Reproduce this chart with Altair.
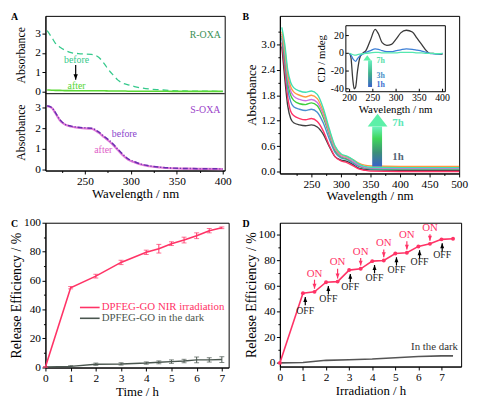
import altair as alt
import pandas as pd

SERIF = "Liberation Serif"

# ---------------- Panel A : UV-vis of R-OXA / S-OXA ----------------
A_WL = [209, 214, 218, 223, 228, 235, 245, 257, 265, 271, 276, 281, 286, 291, 297, 304, 311, 320, 332, 345, 360, 380, 400]
A_R_BEFORE = [3.15, 2.80, 2.50, 2.30, 2.15, 2.02, 1.96, 1.93, 1.78, 1.45, 1.12, 0.85, 0.60, 0.45, 0.36, 0.27, 0.20, 0.14, 0.10, 0.06, 0.04, 0.03, 0.02]
A_R_AFTER = [0.09, 0.08, 0.07, 0.07, 0.06, 0.06, 0.05, 0.05, 0.05, 0.05, 0.04, 0.04, 0.04, 0.04, 0.03, 0.03, 0.03, 0.03, 0.03, 0.02, 0.02, 0.02, 0.02]
A_S_BEFORE = [3.08, 3.00, 2.75, 2.40, 2.20, 2.10, 2.03, 2.00, 1.82, 1.60, 1.43, 1.22, 0.98, 0.75, 0.52, 0.38, 0.26, 0.18, 0.11, 0.07, 0.05, 0.04, 0.03]
A_S_AFTER = [3.06, 2.98, 2.72, 2.37, 2.18, 2.08, 2.01, 1.97, 1.78, 1.56, 1.38, 1.18, 0.94, 0.70, 0.48, 0.35, 0.24, 0.16, 0.10, 0.06, 0.04, 0.03, 0.02]
A_TOP_TEXT = ["R-OXA", "before", "after"]
A_TOP_TX = [381, 241, 241]
A_TOP_TY = [2.95, 1.62, 0.30]
A_TOP_TC = ["#3a8f55", "#33c98a", "#55d633"]
A_BOT_TEXT = ["S-OXA", "before", "after"]
A_BOT_TX = [381, 293, 270]
A_BOT_TY = [2.90, 1.72, 0.95]
A_BOT_TC = ["#9b3fc9", "#8a45cc", "#e05cc8"]
A_ARROW_X = [240]
A_ARROW_Y1 = [1.38]
A_ARROW_Y2 = [0.62]
A_XTICKS = [225, 250, 275, 300, 325, 350, 375, 400]
A_YTICKS = [0, 1, 2, 3]

# ---------------- Panel B : UV-vis over time + CD inset ----------------
B_WL = [200, 205, 210, 215, 220, 230, 240, 250, 260, 270, 280, 290, 300, 310, 320, 330, 340, 350, 400, 450, 500]
B_SERIES = {
    "1h": [2.95, 2.20, 1.55, 1.25, 1.15, 1.10, 1.08, 1.10, 1.05, 0.88, 0.60, 0.35, 0.27, 0.24, 0.17, 0.08, 0.05, 0.04, 0.03, 0.03, 0.03],
    "2h": [3.05, 2.40, 1.75, 1.42, 1.32, 1.25, 1.22, 1.25, 1.18, 0.96, 0.62, 0.35, 0.25, 0.21, 0.14, 0.06, 0.03, 0.01, 0.00, 0.00, 0.00],
    "3h": [3.15, 2.60, 1.95, 1.65, 1.53, 1.47, 1.44, 1.47, 1.40, 1.15, 0.78, 0.45, 0.32, 0.28, 0.20, 0.12, 0.08, 0.06, 0.05, 0.05, 0.05],
    "4h": [3.20, 2.70, 2.10, 1.80, 1.68, 1.60, 1.58, 1.62, 1.55, 1.28, 0.88, 0.50, 0.35, 0.30, 0.23, 0.14, 0.09, 0.07, 0.06, 0.06, 0.06],
    "5h": [3.25, 2.80, 2.20, 1.90, 1.78, 1.70, 1.67, 1.70, 1.63, 1.35, 0.92, 0.53, 0.37, 0.32, 0.24, 0.15, 0.10, 0.08, 0.07, 0.07, 0.07],
    "6h": [3.30, 2.90, 2.30, 2.00, 1.88, 1.80, 1.76, 1.80, 1.72, 1.42, 0.98, 0.58, 0.40, 0.35, 0.28, 0.20, 0.15, 0.13, 0.12, 0.12, 0.12],
    "7h": [3.40, 3.00, 2.40, 2.10, 1.98, 1.90, 1.87, 1.90, 1.82, 1.50, 1.02, 0.60, 0.42, 0.36, 0.28, 0.18, 0.12, 0.10, 0.09, 0.09, 0.09],
}
B_COLORS = ["#404040", "#ff3366", "#4a8fd0", "#3ecf3e", "#d070e0", "#ff9a40", "#3fe0b0"]
B_XTICKS = [225, 250, 275, 300, 325, 350, 375, 400, 425, 450, 475, 500]
B_YTICKS = [0, 0.3, 0.6, 0.9, 1.2, 1.5, 1.8, 2.1, 2.4, 2.7, 3.0, 3.3]
B_ARROW_X = [362]
B_ARROW_Y1 = [0.12]
B_ARROW_Y2 = [1.06]
B_TEXT = ["7h", "1h"]
B_TX = [387, 387]
B_TY = [1.15, 0.35]
B_TC = ["#5ee8b8", "#556677"]

CD_WL = [200, 203, 207, 210, 213, 217, 222, 228, 235, 245, 255, 262, 270, 280, 290, 300, 310, 322, 335, 345, 355, 365, 372, 380, 390, 400]
CD_SERIES = {
    "0h": [0, -5, -30, -40, -38, -20, -5, 0, 3, 15, 27, 22, 12, 9, 10, 16, 23, 26, 24, 17, 10, 3, 0, 0, -1, -1],
    "1h": [0, -2, -6, -8, -9, -6, -3, -1, 1, 3, 5, 4.5, 3, 2, 2, 3, 4, 5, 4.5, 3.5, 2.5, 1, 0, -0.5, -1, 0],
    "7h": [0, -0.5, -1.5, -2, -2, -1.5, -1, -0.5, 0, 0.5, 1, 1, 0.5, 0.5, 0.5, 0.5, 1, 1, 1, 0.5, 0.5, 0, 0, 0, -0.5, 0],
}
CD_COLORS = ["#3a3a3a", "#3d7fd6", "#55e8b0"]
CD_XTICKS = [200, 250, 300, 350, 400]
CD_YTICKS = [-40, -20, 0, 20]
CD_ARROW_X = [238]
CD_ARROW_Y1 = [-38]
CD_ARROW_Y2 = [-8]
CD_TEXT = ["7h", "3h", "1h"]
CD_TX = [258, 258, 258]
CD_TY = [-9, -25.5, -35.5]
CD_TC = ["#55e0a8", "#4a90c8", "#3d6fd0"]

# ---------------- Panel C : release efficiency ----------------
C_T = [0, 1, 2, 3, 4, 4.5, 5, 5.5, 6, 6.5, 7]
C_NIR = [0, 55, 63, 72.5, 79.5, 82, 85.5, 88, 91, 94.5, 96.5]
C_NIR_ERR = [0, 0.8, 1.3, 1.5, 1.5, 3, 1.3, 2, 2, 1.5, 0.6]
C_DARK = [0, 0.5, 2, 2.2, 2.8, 3.3, 3.8, 4.2, 5, 5, 5.2]
C_DARK_ERR = [0, 0.5, 0.8, 0.8, 0.8, 1, 1.2, 1.2, 2, 1.5, 2]
C_LEG_TEXT = ["DPFEG-GO NIR irradiation", "DPFEG-GO in the dark"]
C_LEG_Y = [41.3, 33.8]
C_LEG_X1 = [1.37, 1.37]
C_LEG_X2 = [2.15, 2.15]
C_LEG_TX = [2.23, 2.23]
C_COLORS = ["#ff3366", "#4a564f"]
C_XTICKS = [0, 0.5, 1, 1.5, 2, 2.5, 3, 3.5, 4, 4.5, 5, 5.5, 6, 6.5, 7]
C_YTICKS = [0, 10, 20, 30, 40, 50, 60, 70, 80, 90, 100]

# ---------------- Panel D : on/off irradiation ----------------
D_T = [0, 1, 1.5, 2, 2.5, 3, 3.5, 4, 4.5, 5, 5.5, 6, 6.5, 7, 7.5]
D_NIR = [0, 54.5, 55.5, 63, 63.5, 72.5, 73.5, 79.5, 80, 85.5, 86, 91, 93, 96.5, 97]
D_DARK_T = [0, 1, 2, 3, 4, 5, 6, 7, 7.5]
D_DARK = [0, 0.3, 2, 2.5, 3, 4, 5, 5.5, 5.5]
ON_X = [1.5, 2.5, 3.5, 4.5, 5.5, 6.5]
ON_TEXT_Y = [69.5, 78.5, 86.5, 93.5, 100, 105.5]
ON_TAIL = [65, 73.5, 82, 88.5, 95, 100.5]
ON_TIP = [58, 66, 76, 82.5, 88.5, 95.5]
OFF_X = [1.1, 2.1, 3.05, 4.1, 5.05, 6.05, 7.03]
OFF_TEXT_Y = [40.5, 49.5, 59.5, 66.5, 72.5, 78.5, 84]
OFF_TAIL = [45, 53.5, 63, 70, 76, 81.5, 87]
OFF_TIP = [51.5, 60, 69.5, 76.5, 82.5, 88, 93.5]
D_DARK_LABEL = ["In the dark"]
D_DARK_LX = [6.7]
D_DARK_LY = [12.5]
D_XTICKS = [0, 0.5, 1, 1.5, 2, 2.5, 3, 3.5, 4, 4.5, 5, 5.5, 6, 6.5, 7, 7.5]
D_YTICKS = [0, 10, 20, 30, 40, 50, 60, 70, 80, 90, 100]

DOWN_HEAD = "M-0.8,-2L0.8,-2L0,0Z"
UP_HEAD = "M-0.8,2L0.8,2L0,0Z"
BIG_HEAD = "M-1,0L1,0L0,-1.3Z"

AXF = dict(labelFont=SERIF, titleFont=SERIF, titleFontWeight="normal", labelColor="black",
           titleColor="black", tickColor="black", domainColor="black", grid=False,
           labelFontSize=11.5, tickSize=3.5, labelPadding=1.5, labelFlush=False)


def sc(dom, rng=None):
    if rng is None:
        return alt.Scale(domain=dom, nice=False, zero=False)
    return alt.Scale(domain=dom, range=rng, nice=False, zero=False)


def letter(t, dx=-35):
    return alt.Chart(pd.DataFrame({"t": [t]})).mark_text(
        font=SERIF, fontSize=10, fontWeight="bold", align="left", baseline="top"
    ).encode(x=alt.value(dx), y=alt.value(-4), text="t:N")


def minor_kw(minor_test):
    if not minor_test:
        return {}
    return dict(
        tickSize={"condition": {"test": minor_test, "value": 2}, "value": 3.5},
        labelExpr=f"({minor_test}) ? '' : datum.label",
        labelOverlap=False,
    )


def xaxis(values, title, ty, size=13, fmt=None, minor=None):
    kw = dict(AXF, values=values, title=title, titleY=ty, titleBaseline="alphabetic", titleFontSize=size)
    kw.update(minor_kw(minor))
    if fmt:
        kw["format"] = fmt
    return alt.Axis(**kw)


def yaxis(values, title, tx, size=13, fmt=None, minor=None):
    kw = dict(AXF, values=values, title=title, titleX=tx, titleBaseline="alphabetic",
              titleFontSize=size, titleAngle=-90, orient="left")
    kw.update(minor_kw(minor))
    if fmt:
        kw["format"] = fmt
    return alt.Axis(**kw)


# ======================= Panel A =======================
A_XDOM = [207.1, 402.1]
A_TOP_DOM, A_TOP_RNG = [-0.1, 3.915], [79, 0]
A_BOT_DOM, A_BOT_RNG = [-0.048, 3.667], [157, 79]
ax_a = xaxis(A_XTICKS, "Wavelength / nm", 27, fmt="d", minor="datum.value % 50 != 0")


def xa(field="wl"):
    return alt.X(f"{field}:Q", scale=sc(A_XDOM), axis=ax_a)


def ytop(field, axis=None):
    return alt.Y(f"{field}:Q", scale=sc(A_TOP_DOM, A_TOP_RNG), axis=axis)


def ybot(field, axis=None):
    return alt.Y(f"{field}:Q", scale=sc(A_BOT_DOM, A_BOT_RNG), axis=axis)


dfA = pd.DataFrame({"wl": A_WL, "rb": A_R_BEFORE, "ra": A_R_AFTER, "sb": A_S_BEFORE, "sa": A_S_AFTER})
a_top_axis = yaxis(A_YTICKS, "Absorbance", -21, size=12, fmt="d")
a_bot_axis = yaxis(A_YTICKS, "Absorbance", -21, size=12, fmt="d")

baseA = alt.Chart(dfA)
a_rb = baseA.mark_line(color="#35c98c", strokeDash=[6, 4], strokeWidth=1.3, interpolate="monotone").encode(
    x=xa(), y=ytop("rb", a_top_axis))
a_ra = baseA.mark_line(color="#5cd836", strokeWidth=1.6, interpolate="monotone").encode(x=xa(), y=ytop("ra"))
a_sa = baseA.mark_line(color="#e07ad8", strokeWidth=2.2, interpolate="monotone").encode(
    x=xa(), y=ybot("sa", a_bot_axis))
a_sb = baseA.mark_line(color="#6a2fb0", strokeDash=[5, 2, 1, 2], strokeWidth=1.5, interpolate="monotone").encode(
    x=xa(), y=ybot("sb"))
dfAt = pd.DataFrame({"wl": A_TOP_TX, "v": A_TOP_TY, "t": A_TOP_TEXT, "c": A_TOP_TC})
a_tt = alt.Chart(dfAt).mark_text(font=SERIF, fontSize=10).encode(
    x=xa(), y=ytop("v"), text="t:N", color=alt.Color("c:N", scale=None))
dfAb = pd.DataFrame({"wl": A_BOT_TX, "v": A_BOT_TY, "t": A_BOT_TEXT, "c": A_BOT_TC})
a_tb = alt.Chart(dfAb).mark_text(font=SERIF, fontSize=10).encode(
    x=xa(), y=ybot("v"), text="t:N", color=alt.Color("c:N", scale=None))
dfAa = pd.DataFrame({"wl": A_ARROW_X, "y1": A_ARROW_Y1, "y2": A_ARROW_Y2})
a_ar = alt.Chart(dfAa).mark_rule(color="black", strokeWidth=1.2).encode(
    x=xa(), y=ytop("y1"), y2="y2:Q")
a_ah = alt.Chart(dfAa).mark_point(shape=DOWN_HEAD, size=30, filled=True, color="black", opacity=1).encode(
    x=xa(), y=ytop("y2"))
a_div = alt.Chart(pd.DataFrame({"d": [0]})).mark_rule(color="black", strokeWidth=1).encode(
    x=alt.value(0), x2=alt.value(182), y=alt.value(79))

panelA = alt.layer(a_rb, a_ra, a_sa, a_sb, a_tt, a_tb, a_ar, a_ah, a_div, letter("A")).resolve_scale(
    y="independent").properties(width=182, height=157)

# ======================= Panel B =======================
B_XDOM = [196.7, 500]
B_YDOM = [-0.047, 3.674]
CD_XDOM, CD_XRNG = [192, 406], [67, 168]
CD_YDOM, CD_YRNG = [-43.3, 31.1], [77, 10]

rows = []
for (name, vals), col in zip(B_SERIES.items(), B_COLORS):
    for w, v in zip(B_WL, vals):
        rows.append({"wl": w, "v": v, "s": name, "c": col})
dfB = pd.DataFrame(rows)
rows = []
for (name, vals), col in zip(CD_SERIES.items(), CD_COLORS):
    for w, v in zip(CD_WL, vals):
        rows.append({"wl": w, "v": v, "s": name, "c": col})
dfCD = pd.DataFrame(rows)

ax_bx = xaxis(B_XTICKS, "Wavelength / nm", 26.5, fmt="d", minor="datum.value % 50 != 0")
ax_by = yaxis(B_YTICKS, "Absorbance", -25, size=13, fmt=".1f", minor="round(datum.value * 10) % 6 != 0")


def xb(axis=None, field="wl"):
    return alt.X(f"{field}:Q", scale=sc(B_XDOM), axis=axis)


def yb(field="v", axis=None):
    return alt.Y(f"{field}:Q", scale=sc(B_YDOM), axis=axis)


def xcd(field="wl"):
    return alt.X(f"{field}:Q", scale=sc(CD_XDOM, CD_XRNG), axis=None)


def ycd(field="v"):
    return alt.Y(f"{field}:Q", scale=sc(CD_YDOM, CD_YRNG), axis=None)


b_lines = alt.Chart(dfB).mark_line(strokeWidth=1.4, interpolate="monotone").encode(
    x=xb(ax_bx), y=yb("v", ax_by), color=alt.Color("c:N", scale=None), detail="s:N")

grad_big = alt.Gradient(gradient="linear", x1=0, x2=0, y1=1, y2=0, stops=[
    alt.GradientStop(color="#3a62c8", offset=0), alt.GradientStop(color="#3c8f78", offset=0.35),
    alt.GradientStop(color="#3fd65a", offset=0.7), alt.GradientStop(color="#6af2c0", offset=1)])
dfBa = pd.DataFrame({"wl": B_ARROW_X, "y1": B_ARROW_Y1, "y2": B_ARROW_Y2})
b_shaft = alt.Chart(dfBa).mark_bar(size=10, color=grad_big).encode(x=xb(), y=yb("y1"), y2="y2:Q")
b_head = alt.Chart(dfBa).mark_point(shape=BIG_HEAD, size=400, filled=True, color="#5cf0a8", opacity=1).encode(
    x=xb(), y=yb("y2"))
dfBt = pd.DataFrame({"wl": B_TX, "v": B_TY, "t": B_TEXT, "c": B_TC})
b_txt = alt.Chart(dfBt).mark_text(font=SERIF, fontSize=11, fontWeight="bold", align="left").encode(
    x=xb(), y=yb("v"), text="t:N", color=alt.Color("c:N", scale=None))

# inset frame and hand-placed inset axes (positioned through the inset scales)
inset_bg = alt.Chart(pd.DataFrame({"d": [0]})).mark_rect(fill="white", stroke="black", strokeWidth=1).encode(
    x=alt.value(CD_XRNG[0]), x2=alt.value(CD_XRNG[1]), y=alt.value(CD_YRNG[1]), y2=alt.value(CD_YRNG[0]))
dfCxt = pd.DataFrame({"wl": CD_XTICKS, "lab": [str(v) for v in CD_XTICKS]})
dfCyt = pd.DataFrame({"v": CD_YTICKS, "lab": [str(v) for v in CD_YTICKS]})
cd_xtick = alt.Chart(dfCxt).mark_rule(color="black").encode(
    x=xcd(), y=alt.value(CD_YRNG[0]), y2=alt.value(CD_YRNG[0] - 3))
cd_xlab = alt.Chart(dfCxt).mark_text(font=SERIF, fontSize=10, baseline="top").encode(
    x=xcd(), y=alt.value(CD_YRNG[0] + 1.5), text="lab:N")
cd_ytick = alt.Chart(dfCyt).mark_rule(color="black").encode(
    y=ycd(), x=alt.value(CD_XRNG[0]), x2=alt.value(CD_XRNG[0] + 3))
cd_ylab = alt.Chart(dfCyt).mark_text(font=SERIF, fontSize=10, align="right", baseline="middle").encode(
    y=ycd(), x=alt.value(CD_XRNG[0] - 2), text="lab:N")
cd_titles = alt.Chart(pd.DataFrame({"t": ["Wavelength / nm"]})).mark_text(
    font=SERIF, fontSize=11, baseline="alphabetic").encode(
    x=alt.value((CD_XRNG[0] + CD_XRNG[1]) / 2), y=alt.value(CD_YRNG[0] + 21.5), text="t:N")
cd_ytitle = alt.Chart(pd.DataFrame({"t": ["CD / mdeg"]})).mark_text(
    font=SERIF, fontSize=11, baseline="alphabetic", angle=270).encode(
    x=alt.value(CD_XRNG[0] - 21), y=alt.value((CD_YRNG[0] + CD_YRNG[1]) / 2), text="t:N")

cd_lines = alt.Chart(dfCD).mark_line(strokeWidth=1.3, interpolate="monotone").encode(
    x=xcd(), y=ycd("v"), color=alt.Color("c:N", scale=None), detail="s:N")
grad_small = alt.Gradient(gradient="linear", x1=0, x2=0, y1=1, y2=0, stops=[
    alt.GradientStop(color="#3a62c8", offset=0), alt.GradientStop(color="#3fb08a", offset=0.5),
    alt.GradientStop(color="#6af2c0", offset=1)])
dfCa = pd.DataFrame({"wl": CD_ARROW_X, "y1": CD_ARROW_Y1, "y2": CD_ARROW_Y2})
cd_shaft = alt.Chart(dfCa).mark_bar(size=4, color=grad_small).encode(x=xcd(), y=ycd("y1"), y2="y2:Q")
cd_head = alt.Chart(dfCa).mark_point(shape=BIG_HEAD, size=64, filled=True, color="#5cf0a8", opacity=1).encode(
    x=xcd(), y=ycd("y2"))
dfCt = pd.DataFrame({"wl": CD_TX, "v": CD_TY, "t": CD_TEXT, "c": CD_TC})
cd_txt = alt.Chart(dfCt).mark_text(font=SERIF, fontSize=8, fontWeight="bold", align="left").encode(
    x=xcd(), y=ycd("v"), text="t:N", color=alt.Color("c:N", scale=None))

panelB = alt.layer(b_lines, b_shaft, b_head, b_txt, inset_bg, cd_xtick, cd_xlab, cd_ytick, cd_ylab,
                   cd_titles, cd_ytitle, cd_lines, cd_shaft, cd_head, cd_txt,
                   letter("B", -38)).resolve_scale(x="independent", y="independent").properties(width=182, height=160)

# ======================= Panel C =======================
C_XDOM = [0, 7.27]
C_YDOM = [-0.3, 100]
ax_cx = xaxis(C_XTICKS, "Time / h", 28, fmt="d", minor="datum.value % 1 != 0")
ax_cy = yaxis(C_YTICKS, "Release Efficiency / %", -25.5, size=14, fmt="d", minor="datum.value % 20 != 0")


def xc(field="t"):
    return alt.X(f"{field}:Q", scale=sc(C_XDOM), axis=ax_cx)


def yc(field):
    return alt.Y(f"{field}:Q", scale=sc(C_YDOM), axis=ax_cy)


dfC = pd.DataFrame({"t": C_T, "nir": C_NIR, "dark": C_DARK,
                    "nlo": [v - e for v, e in zip(C_NIR, C_NIR_ERR)], "nhi": [v + e for v, e in zip(C_NIR, C_NIR_ERR)],
                    "dlo": [v - e for v, e in zip(C_DARK, C_DARK_ERR)], "dhi": [v + e for v, e in zip(C_DARK, C_DARK_ERR)]})
baseC = alt.Chart(dfC)
c_dark = baseC.mark_line(color=C_COLORS[1], strokeWidth=1.5).encode(x=xc(), y=yc("dark"))
c_nir = baseC.mark_line(color=C_COLORS[0], strokeWidth=1.6).encode(x=xc(), y=yc("nir"))
c_derr = baseC.mark_rule(color=C_COLORS[1], strokeWidth=1).encode(x=xc(), y=yc("dlo"), y2="dhi:Q")
c_nerr = baseC.mark_rule(color=C_COLORS[0], strokeWidth=1).encode(x=xc(), y=yc("nlo"), y2="nhi:Q")
caps = []
for f, col in [("dlo", C_COLORS[1]), ("dhi", C_COLORS[1]), ("nlo", C_COLORS[0]), ("nhi", C_COLORS[0])]:
    caps.append(baseC.mark_tick(orient="horizontal", size=5, thickness=1, color=col).encode(x=xc(), y=yc(f)))
dfCl = pd.DataFrame({"x1": C_LEG_X1, "x2": C_LEG_X2, "tx": C_LEG_TX, "y": C_LEG_Y, "t": C_LEG_TEXT, "c": C_COLORS})
c_legl = alt.Chart(dfCl).mark_rule(strokeWidth=1.6).encode(
    x=xc("x1"), x2="x2:Q", y=yc("y"), color=alt.Color("c:N", scale=None))
c_legt = alt.Chart(dfCl).mark_text(font=SERIF, fontSize=11, align="left").encode(
    x=xc("tx"), y=yc("y"), text="t:N", color=alt.Color("c:N", scale=None))

panelC = alt.layer(c_dark, c_nir, c_derr, c_nerr, *caps, c_legl, c_legt, letter("C")).properties(width=186, height=147)

# ======================= Panel D =======================
D_XDOM = [0, 7.85]
D_YDOM = [-2.85, 109.5]
ax_dx = xaxis(D_XTICKS, "Irradiation / h", 28, fmt="d", minor="datum.value % 1 != 0")
ax_dy = yaxis(D_YTICKS, "Release Efficiency / %", -24.5, size=14, fmt="d", minor="datum.value % 20 != 0")


def xd(field="t"):
    return alt.X(f"{field}:Q", scale=sc(D_XDOM), axis=ax_dx)


def yd(field):
    return alt.Y(f"{field}:Q", scale=sc(D_YDOM), axis=ax_dy)


dfDd = pd.DataFrame({"t": D_DARK_T, "v": D_DARK})
dfDn = pd.DataFrame({"t": D_T, "v": D_NIR})
d_dark = alt.Chart(dfDd).mark_line(color="#555555", strokeWidth=1.6).encode(x=xd(), y=yd("v"))
d_nir = alt.Chart(dfDn).mark_line(color="#ff3366", strokeWidth=1.6,
                                  point=alt.OverlayMarkDef(filled=True, size=16, color="#ff3366")).encode(
    x=xd(), y=yd("v"))
dfOn = pd.DataFrame({"t": ON_X, "ty": ON_TEXT_Y, "a1": ON_TAIL, "a2": ON_TIP, "s": ["ON"] * len(ON_X)})
dfOff = pd.DataFrame({"t": OFF_X, "ty": OFF_TEXT_Y, "a1": OFF_TAIL, "a2": OFF_TIP, "s": ["OFF"] * len(OFF_X)})
d_on_r = alt.Chart(dfOn).mark_rule(color="#ff3366", strokeWidth=1.2).encode(x=xd(), y=yd("a1"), y2="a2:Q")
d_on_h = alt.Chart(dfOn).mark_point(shape=DOWN_HEAD, size=25, filled=True, color="#ff3366", opacity=1).encode(
    x=xd(), y=yd("a2"))
d_on_t = alt.Chart(dfOn).mark_text(font=SERIF, fontSize=11, color="#ff3366").encode(x=xd(), y=yd("ty"), text="s:N")
d_off_r = alt.Chart(dfOff).mark_rule(color="black", strokeWidth=1.2).encode(x=xd(), y=yd("a1"), y2="a2:Q")
d_off_h = alt.Chart(dfOff).mark_point(shape=UP_HEAD, size=25, filled=True, color="black", opacity=1).encode(
    x=xd(), y=yd("a2"))
d_off_t = alt.Chart(dfOff).mark_text(font=SERIF, fontSize=10, color="#222222").encode(x=xd(), y=yd("ty"), text="s:N")
dfDl = pd.DataFrame({"t": D_DARK_LX, "v": D_DARK_LY, "s": D_DARK_LABEL})
d_lab = alt.Chart(dfDl).mark_text(font=SERIF, fontSize=11, color="#333333").encode(x=xd(), y=yd("v"), text="s:N")

panelD = alt.layer(d_dark, d_nir, d_on_r, d_on_h, d_on_t, d_off_r, d_off_h, d_off_t, d_lab,
                   letter("D", -38)).properties(width=184, height=146)

chart = alt.concat(panelA, panelB, panelC, panelD, columns=2, spacing={"row": 50, "column": 52},
                   bounds="flush").properties(padding=0).configure_view(
    stroke="black", strokeWidth=1).configure_axis(**AXF)

chart.save("out.html", embed_options={"renderer": "svg", "actions": False})
